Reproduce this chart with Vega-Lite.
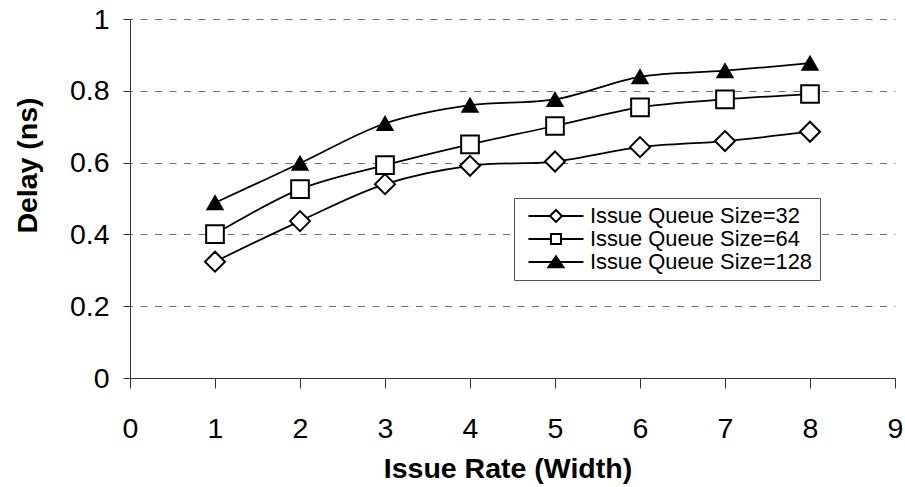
{
  "$schema": "https://vega.github.io/schema/vega-lite/v6.json",
  "width": 765,
  "height": 359,
  "autosize": {"type": "none"},
  "padding": {"left": 130, "top": 19, "right": 10, "bottom": 109},
  "background": "white",
  "config": {"view": {"stroke": null}, "font": "Liberation Sans"},
  "data": {
    "values": [
      {"x": 1, "y": 0.324, "s": "Issue Queue Size=32"},
      {"x": 2, "y": 0.437, "s": "Issue Queue Size=32"},
      {"x": 3, "y": 0.540, "s": "Issue Queue Size=32"},
      {"x": 4, "y": 0.591, "s": "Issue Queue Size=32"},
      {"x": 5, "y": 0.603, "s": "Issue Queue Size=32"},
      {"x": 6, "y": 0.643, "s": "Issue Queue Size=32"},
      {"x": 7, "y": 0.660, "s": "Issue Queue Size=32"},
      {"x": 8, "y": 0.686, "s": "Issue Queue Size=32"},
      {"x": 1, "y": 0.401, "s": "Issue Queue Size=64"},
      {"x": 2, "y": 0.526, "s": "Issue Queue Size=64"},
      {"x": 3, "y": 0.593, "s": "Issue Queue Size=64"},
      {"x": 4, "y": 0.651, "s": "Issue Queue Size=64"},
      {"x": 5, "y": 0.702, "s": "Issue Queue Size=64"},
      {"x": 6, "y": 0.754, "s": "Issue Queue Size=64"},
      {"x": 7, "y": 0.776, "s": "Issue Queue Size=64"},
      {"x": 8, "y": 0.791, "s": "Issue Queue Size=64"},
      {"x": 1, "y": 0.488, "s": "Issue Queue Size=128"},
      {"x": 2, "y": 0.598, "s": "Issue Queue Size=128"},
      {"x": 3, "y": 0.709, "s": "Issue Queue Size=128"},
      {"x": 4, "y": 0.760, "s": "Issue Queue Size=128"},
      {"x": 5, "y": 0.776, "s": "Issue Queue Size=128"},
      {"x": 6, "y": 0.839, "s": "Issue Queue Size=128"},
      {"x": 7, "y": 0.856, "s": "Issue Queue Size=128"},
      {"x": 8, "y": 0.877, "s": "Issue Queue Size=128"}
    ]
  },
  "encoding": {
    "x": {
      "field": "x", "type": "quantitative",
      "scale": {"domain": [0, 9], "nice": false, "zero": false},
      "axis": {
        "values": [0, 1, 2, 3, 4, 5, 6, 7, 8, 9],
        "grid": false,
        "domainColor": "#333", "domainWidth": 1,
        "tickColor": "#333", "tickSize": 10, "tickWidth": 1,
        "labelPadding": 26.5, "labelFontSize": 28.5, "labelColor": "black", "labelFont": "Liberation Sans",
        "labelFlush": false, "labelOverlap": false,
        "title": "Issue Rate (Width)", "titleFontSize": 28.5, "titleFontWeight": "bold", "titleColor": "black",
        "titleFont": "Liberation Sans", "titleBaseline": "alphabetic", "titleY": 99, "titleX": 377.5, "titleAlign": "center"
      }
    },
    "y": {
      "field": "y", "type": "quantitative",
      "scale": {"domain": [0, 1], "nice": false},
      "axis": {
        "values": [0, 0.2, 0.4, 0.6, 0.8, 1],
        "format": "~g",
        "grid": true, "gridDash": [7, 7.5], "gridDashOffset": 4.5, "gridColor": "#707070", "gridWidth": 1,
        "domainColor": "#333", "domainWidth": 1,
        "tickColor": "#333", "tickSize": 7, "tickWidth": 1,
        "labelPadding": 14, "labelFontSize": 28.5, "labelColor": "black", "labelFont": "Liberation Sans",
        "labelFlush": false, "labelOverlap": false,
        "title": "Delay (ns)", "titleFontSize": 28.5, "titleFontWeight": "bold", "titleColor": "black",
        "titleFont": "Liberation Sans", "titleBaseline": "alphabetic", "titleX": -94, "titleY": 146, "titleAngle": 270, "titleAlign": "center"
      }
    }
  },
  "layer": [
    {
      "mark": {"type": "point", "filled": true, "opacity": 0},
      "encoding": {
        "shape": {
          "field": "s", "type": "nominal",
          "scale": {
            "domain": ["Issue Queue Size=32", "Issue Queue Size=64", "Issue Queue Size=128"],
            "range": [
              "M-5.5,0H-1.2M1.2,0H5.5M-1.2,0L0,-1.2L1.2,0L0,1.2Z",
              "M-5.5,0H-1M1,0H5.5M-1,-1H1V1H-1Z",
              "M-5.5,0H5.5M0,-1.15L1.5,1.05H-1.5Z"
            ]
          },
          "legend": {
            "title": null, "orient": "none", "legendX": 384, "legendY": 179, "direction": "vertical",
            "fillColor": "white", "strokeColor": "#555", "padding": 7,
            "labelFont": "Liberation Sans", "labelFontSize": 21.9, "labelColor": "black", "labelLimit": 0,
            "symbolSize": 100, "symbolOpacity": 1, "symbolStrokeWidth": 2, "symbolStrokeColor": "black",
            "symbolOffset": 24, "labelOffset": 23, "rowPadding": 0,
            "encoding": {"symbols": {"stroke": {"value": "black"}, "strokeWidth": {"value": 2}, "opacity": {"value": 1}}}
          }
        },
        "fill": {
          "field": "s", "type": "nominal",
          "scale": {"domain": ["Issue Queue Size=32", "Issue Queue Size=64", "Issue Queue Size=128"], "range": ["white", "white", "black"]},
          "legend": {
            "title": null, "orient": "none", "legendX": 384, "legendY": 179, "direction": "vertical",
            "fillColor": "white", "strokeColor": "#555", "padding": 7,
            "labelFont": "Liberation Sans", "labelFontSize": 21.9, "labelColor": "black", "labelLimit": 0,
            "symbolSize": 100, "symbolOpacity": 1, "symbolStrokeWidth": 2, "symbolStrokeColor": "black",
            "symbolOffset": 24, "labelOffset": 23, "rowPadding": 0
          }
        }
      }
    },
    {
      "mark": {"type": "line", "interpolate": "catmull-rom", "color": "black", "strokeWidth": 1.75},
      "encoding": {"detail": {"field": "s", "type": "nominal"}}
    },
    {
      "mark": {"type": "point", "filled": true, "stroke": "black", "strokeWidth": 2, "opacity": 1},
      "encoding": {
        "shape": {
          "field": "s", "type": "nominal",
          "scale": {"domain": ["Issue Queue Size=32", "Issue Queue Size=64", "Issue Queue Size=128"], "range": ["diamond", "square", "triangle-up"]},
          "legend": null
        },
        "fill": {
          "field": "s", "type": "nominal",
          "scale": {"domain": ["Issue Queue Size=32", "Issue Queue Size=64", "Issue Queue Size=128"], "range": ["white", "white", "black"]},
          "legend": null
        },
        "size": {
          "field": "s", "type": "nominal",
          "scale": {"domain": ["Issue Queue Size=32", "Issue Queue Size=64", "Issue Queue Size=128"], "range": [400, 225, 400]},
          "legend": null
        }
      }
    }
  ],
  "resolve": {"scale": {"shape": "independent", "fill": "independent", "size": "independent"}}
}
